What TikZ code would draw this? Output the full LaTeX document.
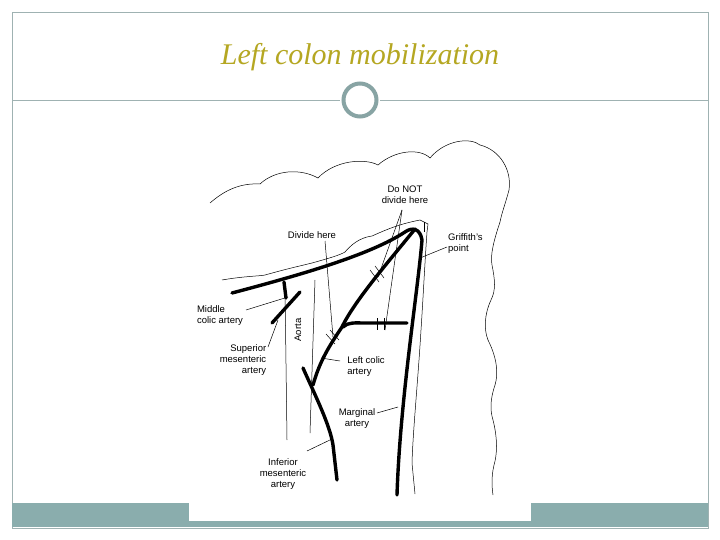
\documentclass[tikz,border=0pt]{standalone}
\usepackage{fontspec}
\setsansfont{Liberation Sans}
\setmainfont{Liberation Serif}
\begin{document}
\begin{tikzpicture}[x=1pt,y=-1pt,
  frame/.style={draw=teal!25!gray!60, line width=0.8pt},
  art/.style={line width=3.4pt, line cap=round, line join=round},
  thin/.style={line width=0.5pt},
  lab/.style={font=\sffamily\fontsize{9.5}{11}\selectfont, align=center, inner sep=1pt},
  ptr/.style={line width=0.5pt}]
\definecolor{band}{HTML}{8AADAD}
\definecolor{ttl}{HTML}{B5A722}
\useasboundingbox (0,0) rectangle (720,540);
\fill[white] (0,0) rectangle (720,540);
\draw[frame] (12,12) rectangle (708,528);
\fill[band] (12,503) rectangle (708,527);
\fill[white] (189,498) rectangle (531,521);
\draw[frame] (12,100) -- (340,100);
\draw[frame] (380,100) -- (708,100);
\node[circle, draw=band!80!gray, line width=4pt, minimum size=33pt, inner sep=0pt] (c) at (360,100) {};
\node[text=ttl, font=\itshape\fontsize{30}{34}\selectfont] (title) at (360,57) {Left colon mobilization};

% colon outline
\draw[thin] (210,203) .. controls (225,190) and (240,183) .. (260,184)
  .. controls (275,170) and (300,168) .. (318,178)
  .. controls (335,160) and (365,158) .. (378,165)
  .. controls (395,150) and (420,148) .. (430,158)
  .. controls (445,140) and (470,137) .. (480,145)
  .. controls (500,150) and (512,170) .. (509,190)
  .. controls (505,205) and (502,212) .. (500,222)
  .. controls (494,240) and (490,255) .. (492,265)
  .. controls (495,280) and (496,290) .. (491,300)
  .. controls (484,315) and (484,330) .. (488,340)
  .. controls (498,360) and (498,375) .. (495,385)
  .. controls (490,400) and (490,410) .. (493,420)
  .. controls (498,440) and (497,455) .. (494,465)
  .. controls (491,478) and (492,488) .. (493,495);
\draw[thin] (222,280) .. controls (245,276) and (262,276) .. (265,275)
  .. controls (290,268) and (300,266) .. (312,263)
  .. controls (330,258) and (340,255) .. (345,252)
  .. controls (355,240) and (365,237) .. (372,236)
  .. controls (390,228) and (400,224) .. (420,220)
  -- (428,224) -- (427,232)
  .. controls (425,260) and (423,300) .. (421,330)
  .. controls (418,380) and (413,430) .. (412,463)
  -- (415,494);

% aorta
\draw[thin] (285,288) -- (287,440);
\draw[thin] (315,280) -- (310,433);
\node[lab, rotate=90] (aorta) at (298,330) {Aorta};

% arteries
\coordinate (apex) at (415,229);
\draw[art] (232,293) .. controls (300,275) and (370,255) .. (405,232) .. controls (412,227) and (420,228) .. (422,240)
  .. controls (418,290) and (400,400) .. (397,495);
\draw[art] (apex) .. controls (390,260) and (355,300) .. (342,327)
  .. controls (330,345) and (320,360) .. (313,385);
\draw[art] (343,327) .. controls (348,322) and (355,323) .. (365,323) -- (407,323);
\draw[art] (303,368) .. controls (315,395) and (330,425) .. (333,445) -- (337,480);
\draw[art] (284,282) -- (286,298);
\draw[art] (300,292) -- (272,323);

% ticks
\draw[thin] (370,270) -- (379,282);
\draw[thin] (375,266) -- (384,278);
\draw[thin] (326,334) -- (335,344);
\draw[thin] (330,330) -- (339,340);
\draw[thin] (377,318) -- (377,330);
\draw[thin] (384,318) -- (384,330);
\draw[thin] (424,222) -- (424,232);

% labels and pointers
\node[lab] (donot) at (405,195) {Do NOT\\divide here};
\draw[ptr] (402,210) -- (378,277);
\draw[ptr] (402,210) -- (385,330);
\node[lab] (divide) at (312,235) {Divide here};
\draw[ptr] (325,241) -- (333,337);
\node[lab, align=left, anchor=west] (griff) at (447,244) {Griffith's\\point};
\draw[ptr] (447,247) -- (420,258);
\node[lab, align=left] (mid) at (220,316) {Middle\\colic artery};
\draw[ptr] (246,310) -- (288,297);
\node[lab, align=right] (sma) at (243,360) {Superior\\mesenteric\\artery};
\draw[ptr] (268,347) -- (278,320);
\node[lab, align=left] (lca) at (366,367) {Left colic\\artery};
\draw[ptr] (340,361) -- (321,358);
\node[lab] (marg) at (357,419) {Marginal\\artery};
\draw[ptr] (377,413) -- (398,407);
\node[lab] (ima) at (283,474) {Inferior\\mesenteric\\artery};
\draw[ptr] (307,451) -- (332,439);
\end{tikzpicture}
\end{document}
